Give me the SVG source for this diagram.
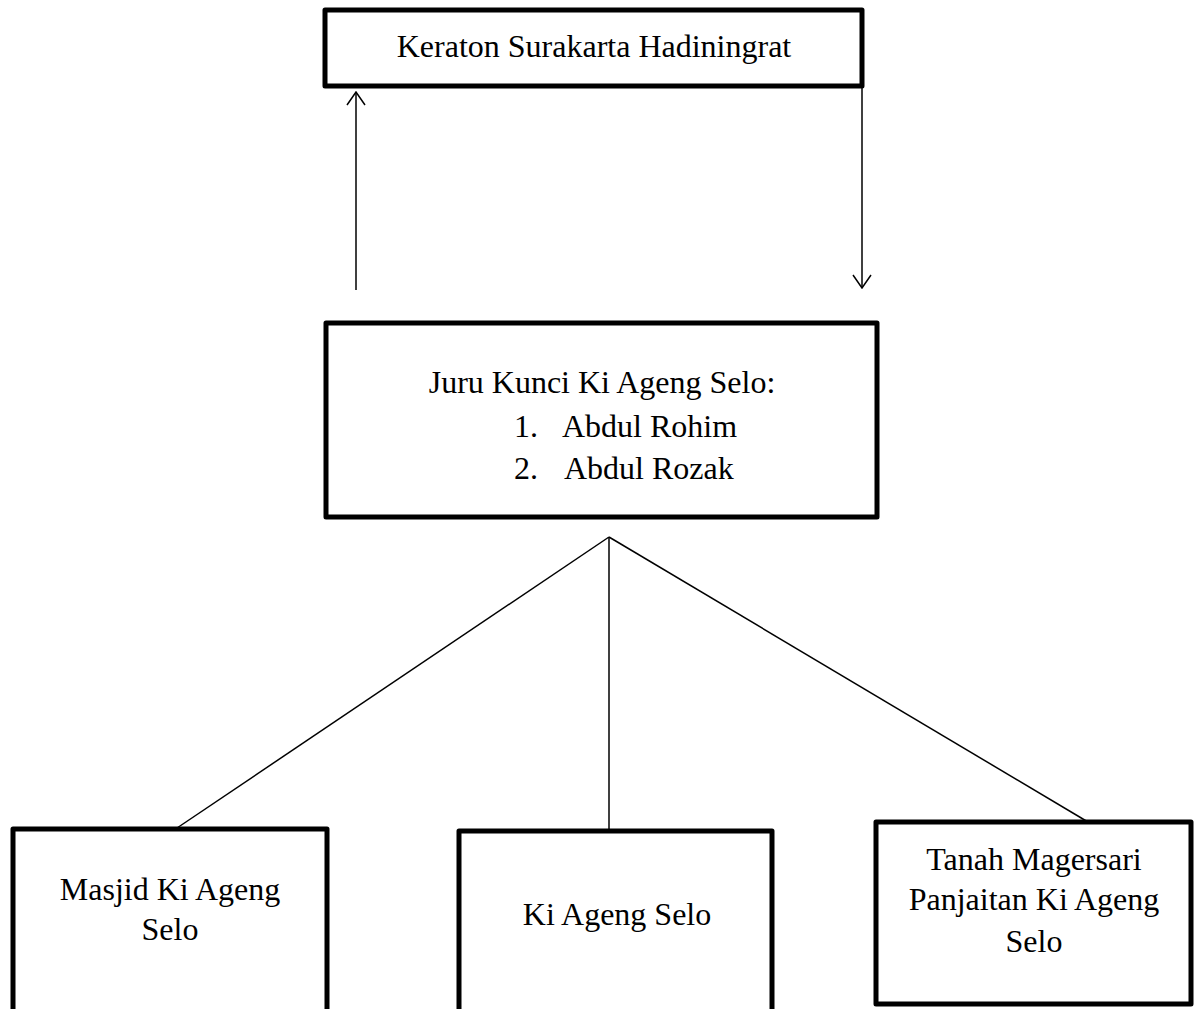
<svg xmlns="http://www.w3.org/2000/svg" width="1195" height="1009" viewBox="0 0 1195 1009">
<style>
.box{fill:#fff;stroke:#000;stroke-width:5;stroke-linejoin:round}
.t{font-family:"Liberation Serif","Times New Roman",serif;font-size:32px;fill:#000}
.c{text-anchor:middle}
.ln{stroke:#000;stroke-width:1.5;fill:none}
</style>
<defs>
<marker id="ah" viewBox="0 0 20 20" refX="19" refY="10" markerWidth="20" markerHeight="20" markerUnits="userSpaceOnUse" orient="auto">
<path d="M6,1 L19,10 L6,19" fill="none" stroke="#000" stroke-width="1.5"/>
</marker>
</defs>
<g id="connectors">
<line class="ln" x1="356" y1="290" x2="356" y2="92" marker-end="url(#ah)"/>
<line class="ln" x1="862" y1="88" x2="862" y2="288" marker-end="url(#ah)"/>
<line class="ln" x1="609" y1="537" x2="177" y2="828"/>
<line class="ln" x1="609" y1="537" x2="609" y2="830"/>
<line class="ln" x1="609" y1="537" x2="1088" y2="822"/>
</g>
<g id="keraton">
<rect class="box" x="325" y="10" width="537" height="76"/>
<text class="t c" x="594" y="57">Keraton Surakarta Hadiningrat</text>
</g>
<g id="juru-kunci">
<rect class="box" x="326" y="323" width="551" height="194"/>
<text class="t c" x="602" y="393">Juru Kunci Ki Ageng Selo:</text>
<text class="t" x="514" y="437">1.</text>
<text class="t" x="562" y="437">Abdul Rohim</text>
<text class="t" x="514" y="479">2.</text>
<text class="t" x="564" y="479">Abdul Rozak</text>
</g>
<g id="masjid">
<rect class="box" x="13" y="829" width="314" height="190"/>
<text class="t c" x="170" y="900">Masjid Ki Ageng</text>
<text class="t c" x="170" y="940">Selo</text>
</g>
<g id="ki-ageng-selo">
<rect class="box" x="459" y="831" width="313" height="190"/>
<text class="t c" x="617" y="925">Ki Ageng Selo</text>
</g>
<g id="tanah">
<rect class="box" x="876" y="822" width="315" height="182"/>
<text class="t c" x="1034" y="870">Tanah Magersari</text>
<text class="t c" x="1034" y="910">Panjaitan Ki Ageng</text>
<text class="t c" x="1034" y="952">Selo</text>
</g>
</svg>
